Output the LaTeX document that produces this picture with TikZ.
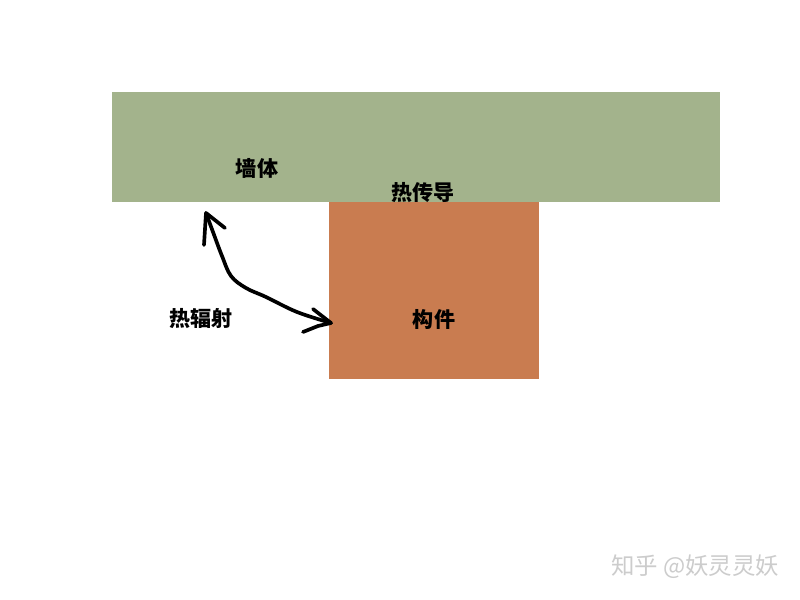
\documentclass[tikz,border=0pt]{standalone}
\usepackage{fontspec}
\newfontfamily\cjk{Noto Sans CJK SC}
\definecolor{wallgreen}{RGB}{163,179,140}
\definecolor{partorange}{RGB}{201,124,80}
\tikzset{
  block/.style={inner sep=0pt, outer sep=0pt},
  lbl/.style={font=\cjk\bfseries\fontsize{18pt}{20pt}\selectfont, text=black},
  stroke/.style={line width=1.1mm, line cap=round, line join=round}
}
\begin{document}
\begin{tikzpicture}[x=0.3mm, y=-0.3mm]
				\useasboundingbox[fill=white] (0,0) rectangle (800,600);
				\node [block, fill=wallgreen, minimum width=182.4mm, minimum height=33mm] (wall) at (416,147) {};
				\node [block, fill=partorange, minimum width=63mm, minimum height=53.1mm] (part) at (434,290.5) {};
				
				\node [lbl] (wallname) at (257,168) {墙体};
				\node [lbl] (conduct) at (423,193) {热传导};
				\node [lbl] (partname) at (434,319) {构件};
				\node [lbl] (radiate) at (201,319) {热辐射};
				
				% hand drawn double arrow between wall and part
				\coordinate (tipA) at (206,213);
				\coordinate (tipB) at (331,323);
				\draw [stroke] plot [smooth, tension=0.6] coordinates {(tipA) (213,232) (222,256) (231,276) (246,288) (266,297) (297,312) (tipB)};
				\draw [stroke] (204,245) -- (tipA) -- (225,228);
				\draw [stroke] (313,309) -- (tipB) -- (318,326) -- (303,332);
				
				\node [font=\cjk\fontsize{20pt}{22pt}\selectfont, text=black!20] (mark) at (695,567) {知乎 @妖灵灵妖};
\end{tikzpicture}
\end{document}
